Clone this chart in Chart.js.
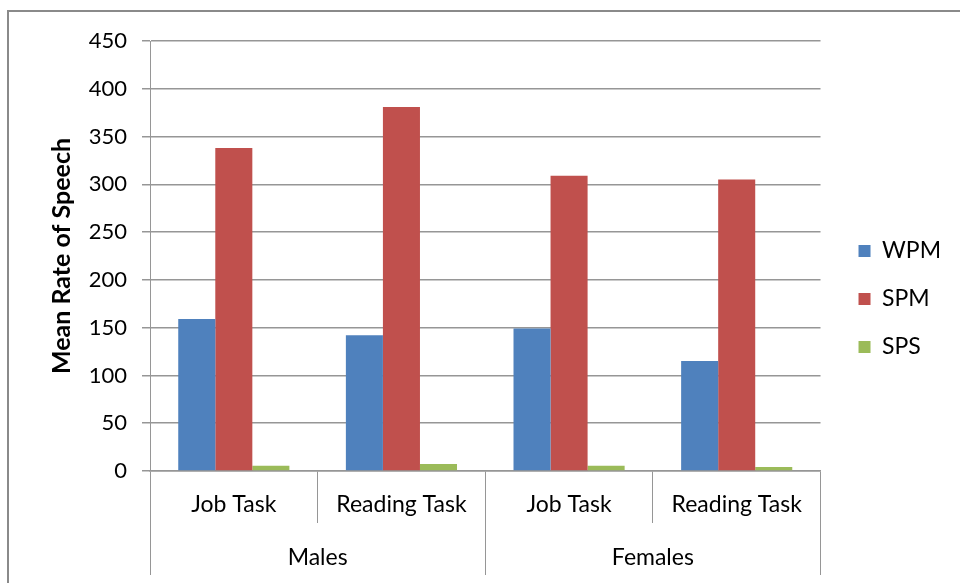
<!DOCTYPE html>
<html>
<head>
<meta charset="utf-8">
<script src="https://cdn.jsdelivr.net/npm/chart.js@4/dist/chart.umd.min.js"></script>
<style>
  html, body { margin: 0; padding: 0; background: #fff; }
  #wrap { position: relative; width: 960px; height: 583px; }
  #frame { position: absolute; left: 7px; top: 10px; right: -4px; bottom: -4px; border: 2px solid #8a8a8a; pointer-events: none; }
</style>
</head>
<body>
<div id="wrap">
  <canvas id="chart" width="960" height="583"></canvas>
  <div id="frame"></div>
</div>
<script>
// tasks within each group, and the groups
const tasks = ['Job Task', 'Reading Task', 'Job Task', 'Reading Task'];
const groups = ['Males', 'Females'];

// mean rate of speech per series
const wpm = [159, 142, 149, 115];
const spm = [338, 381, 309, 305];
const sps = [5.6, 7.2, 5.5, 4.3];

const yTicks = [0, 50, 100, 150, 200, 250, 300, 350, 400, 450];

const FONT = 'Lato, "Open Sans", sans-serif';
const GRID = '#969696';

// nudge the legend block to sit where the original put it
const legendNudge = {
    id: 'legendNudge',
    afterLayout(chart) {
        const l = chart.legend;
        if (!l) return;
        l.left += 13; l.right += 13;
        l.top -= 9; l.bottom -= 9;
    }
};

const ctx = document.getElementById('chart').getContext('2d');
new Chart(ctx, {
    type: 'bar',
    data: {
        labels: tasks,
        datasets: [
            { label: 'WPM', data: wpm, backgroundColor: '#4f81bd' },
            { label: 'SPM', data: spm, backgroundColor: '#c0504d' },
            { label: 'SPS', data: sps, backgroundColor: '#9bbb59' }
        ]
    },
    plugins: [legendNudge],
    options: {
        responsive: false,
        animation: false,
        layout: { padding: { left: 8, top: 41, right: 22, bottom: 8 } },
        datasets: { bar: { categoryPercentage: 0.663, barPercentage: 1.0 } },
        plugins: {
            tooltip: { enabled: false },
            legend: {
                position: 'right',
                labels: {
                    boxWidth: 12,
                    boxHeight: 12,
                    padding: 25,
                    color: '#000',
                    font: { family: FONT, size: 23 }
                }
            }
        },
        scales: {
            y: {
                min: 0,
                max: 450,
                afterBuildTicks: (s) => { s.ticks = yTicks.map(v => ({ value: v })); },
                afterFit: (s) => { s.width = 142; },
                ticks: { color: '#000', padding: 15, font: { family: FONT, size: 22 } },
                grid: { color: GRID, lineWidth: 1.5, tickLength: 8 },
                border: { color: GRID, width: 1 },
                title: {
                    display: true,
                    text: 'Mean Rate of Speech',
                    color: '#000',
                    font: { family: FONT, size: 25, weight: 'bold' },
                    padding: { top: 39, bottom: 0 }
                }
            },
            x: {
                offset: true,
                weight: 0,
                afterFit: (s) => { s.height = 52; },
                grid: { offset: true, drawOnChartArea: false, tickLength: 52, color: GRID, lineWidth: 1 },
                border: { color: GRID, width: 1.5 },
                ticks: { color: '#000', padding: -31.8, maxRotation: 0, font: { family: FONT, size: 23 } }
            },
            x2: {
                type: 'category',
                labels: groups,
                position: 'bottom',
                offset: true,
                weight: 1,
                afterFit: (s) => { s.height = 52; },
                grid: { offset: true, drawOnChartArea: false, tickLength: 52, color: GRID, lineWidth: 1 },
                border: { display: false },
                ticks: { color: '#000', padding: -30.8, maxRotation: 0, font: { family: FONT, size: 23 } }
            }
        }
    }
});
</script>
</body>
</html>
